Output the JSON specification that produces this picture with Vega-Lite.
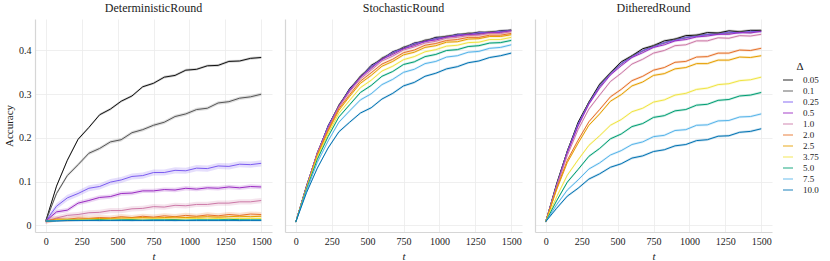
{
"$schema":"https://vega.github.io/schema/vega-lite/v6.json",
"padding":{"left":3,"top":2,"right":2,"bottom":2},
"datasets":{"acc":[
{"m":"D","d":"0.05","t":0,"y":0.010},{"m":"D","d":"0.05","t":75,"y":0.090},{"m":"D","d":"0.05","t":150,"y":0.149},{"m":"D","d":"0.05","t":225,"y":0.197},{"m":"D","d":"0.05","t":300,"y":0.224},{"m":"D","d":"0.05","t":375,"y":0.253},{"m":"D","d":"0.05","t":450,"y":0.266},{"m":"D","d":"0.05","t":525,"y":0.284},{"m":"D","d":"0.05","t":600,"y":0.296},{"m":"D","d":"0.05","t":675,"y":0.317},{"m":"D","d":"0.05","t":750,"y":0.325},{"m":"D","d":"0.05","t":825,"y":0.339},{"m":"D","d":"0.05","t":900,"y":0.343},{"m":"D","d":"0.05","t":975,"y":0.355},{"m":"D","d":"0.05","t":1050,"y":0.357},{"m":"D","d":"0.05","t":1125,"y":0.365},{"m":"D","d":"0.05","t":1200,"y":0.366},{"m":"D","d":"0.05","t":1275,"y":0.375},{"m":"D","d":"0.05","t":1350,"y":0.376},{"m":"D","d":"0.05","t":1425,"y":0.382},{"m":"D","d":"0.05","t":1500,"y":0.384},
{"m":"D","d":"0.1","t":0,"y":0.010},{"m":"D","d":"0.1","t":75,"y":0.073},{"m":"D","d":"0.1","t":150,"y":0.114},{"m":"D","d":"0.1","t":225,"y":0.139},{"m":"D","d":"0.1","t":300,"y":0.165},{"m":"D","d":"0.1","t":375,"y":0.176},{"m":"D","d":"0.1","t":450,"y":0.191},{"m":"D","d":"0.1","t":525,"y":0.196},{"m":"D","d":"0.1","t":600,"y":0.212},{"m":"D","d":"0.1","t":675,"y":0.219},{"m":"D","d":"0.1","t":750,"y":0.229},{"m":"D","d":"0.1","t":825,"y":0.236},{"m":"D","d":"0.1","t":900,"y":0.249},{"m":"D","d":"0.1","t":975,"y":0.255},{"m":"D","d":"0.1","t":1050,"y":0.265},{"m":"D","d":"0.1","t":1125,"y":0.268},{"m":"D","d":"0.1","t":1200,"y":0.280},{"m":"D","d":"0.1","t":1275,"y":0.283},{"m":"D","d":"0.1","t":1350,"y":0.291},{"m":"D","d":"0.1","t":1425,"y":0.294},{"m":"D","d":"0.1","t":1500,"y":0.300},
{"m":"D","d":"0.25","t":0,"y":0.010},{"m":"D","d":"0.25","t":75,"y":0.044},{"m":"D","d":"0.25","t":150,"y":0.063},{"m":"D","d":"0.25","t":225,"y":0.073},{"m":"D","d":"0.25","t":300,"y":0.085},{"m":"D","d":"0.25","t":375,"y":0.089},{"m":"D","d":"0.25","t":450,"y":0.099},{"m":"D","d":"0.25","t":525,"y":0.104},{"m":"D","d":"0.25","t":600,"y":0.112},{"m":"D","d":"0.25","t":675,"y":0.114},{"m":"D","d":"0.25","t":750,"y":0.121},{"m":"D","d":"0.25","t":825,"y":0.121},{"m":"D","d":"0.25","t":900,"y":0.126},{"m":"D","d":"0.25","t":975,"y":0.125},{"m":"D","d":"0.25","t":1050,"y":0.131},{"m":"D","d":"0.25","t":1125,"y":0.130},{"m":"D","d":"0.25","t":1200,"y":0.136},{"m":"D","d":"0.25","t":1275,"y":0.135},{"m":"D","d":"0.25","t":1350,"y":0.140},{"m":"D","d":"0.25","t":1425,"y":0.139},{"m":"D","d":"0.25","t":1500,"y":0.142},
{"m":"D","d":"0.5","t":0,"y":0.010},{"m":"D","d":"0.5","t":75,"y":0.031},{"m":"D","d":"0.5","t":150,"y":0.035},{"m":"D","d":"0.5","t":225,"y":0.051},{"m":"D","d":"0.5","t":300,"y":0.057},{"m":"D","d":"0.5","t":375,"y":0.064},{"m":"D","d":"0.5","t":450,"y":0.066},{"m":"D","d":"0.5","t":525,"y":0.073},{"m":"D","d":"0.5","t":600,"y":0.074},{"m":"D","d":"0.5","t":675,"y":0.079},{"m":"D","d":"0.5","t":750,"y":0.079},{"m":"D","d":"0.5","t":825,"y":0.082},{"m":"D","d":"0.5","t":900,"y":0.081},{"m":"D","d":"0.5","t":975,"y":0.085},{"m":"D","d":"0.5","t":1050,"y":0.083},{"m":"D","d":"0.5","t":1125,"y":0.086},{"m":"D","d":"0.5","t":1200,"y":0.085},{"m":"D","d":"0.5","t":1275,"y":0.088},{"m":"D","d":"0.5","t":1350,"y":0.086},{"m":"D","d":"0.5","t":1425,"y":0.089},{"m":"D","d":"0.5","t":1500,"y":0.088},
{"m":"D","d":"1.0","t":0,"y":0.010},{"m":"D","d":"1.0","t":75,"y":0.017},{"m":"D","d":"1.0","t":150,"y":0.023},{"m":"D","d":"1.0","t":225,"y":0.025},{"m":"D","d":"1.0","t":300,"y":0.029},{"m":"D","d":"1.0","t":375,"y":0.030},{"m":"D","d":"1.0","t":450,"y":0.034},{"m":"D","d":"1.0","t":525,"y":0.034},{"m":"D","d":"1.0","t":600,"y":0.038},{"m":"D","d":"1.0","t":675,"y":0.039},{"m":"D","d":"1.0","t":750,"y":0.043},{"m":"D","d":"1.0","t":825,"y":0.042},{"m":"D","d":"1.0","t":900,"y":0.046},{"m":"D","d":"1.0","t":975,"y":0.045},{"m":"D","d":"1.0","t":1050,"y":0.048},{"m":"D","d":"1.0","t":1125,"y":0.048},{"m":"D","d":"1.0","t":1200,"y":0.051},{"m":"D","d":"1.0","t":1275,"y":0.051},{"m":"D","d":"1.0","t":1350,"y":0.054},{"m":"D","d":"1.0","t":1425,"y":0.054},{"m":"D","d":"1.0","t":1500,"y":0.057},
{"m":"D","d":"2.0","t":0,"y":0.010},{"m":"D","d":"2.0","t":75,"y":0.015},{"m":"D","d":"2.0","t":150,"y":0.014},{"m":"D","d":"2.0","t":225,"y":0.017},{"m":"D","d":"2.0","t":300,"y":0.016},{"m":"D","d":"2.0","t":375,"y":0.018},{"m":"D","d":"2.0","t":450,"y":0.017},{"m":"D","d":"2.0","t":525,"y":0.020},{"m":"D","d":"2.0","t":600,"y":0.018},{"m":"D","d":"2.0","t":675,"y":0.021},{"m":"D","d":"2.0","t":750,"y":0.019},{"m":"D","d":"2.0","t":825,"y":0.022},{"m":"D","d":"2.0","t":900,"y":0.020},{"m":"D","d":"2.0","t":975,"y":0.023},{"m":"D","d":"2.0","t":1050,"y":0.021},{"m":"D","d":"2.0","t":1125,"y":0.024},{"m":"D","d":"2.0","t":1200,"y":0.022},{"m":"D","d":"2.0","t":1275,"y":0.025},{"m":"D","d":"2.0","t":1350,"y":0.023},{"m":"D","d":"2.0","t":1425,"y":0.026},{"m":"D","d":"2.0","t":1500,"y":0.025},
{"m":"D","d":"2.5","t":0,"y":0.010},{"m":"D","d":"2.5","t":75,"y":0.013},{"m":"D","d":"2.5","t":150,"y":0.014},{"m":"D","d":"2.5","t":225,"y":0.014},{"m":"D","d":"2.5","t":300,"y":0.015},{"m":"D","d":"2.5","t":375,"y":0.016},{"m":"D","d":"2.5","t":450,"y":0.016},{"m":"D","d":"2.5","t":525,"y":0.017},{"m":"D","d":"2.5","t":600,"y":0.017},{"m":"D","d":"2.5","t":675,"y":0.018},{"m":"D","d":"2.5","t":750,"y":0.017},{"m":"D","d":"2.5","t":825,"y":0.018},{"m":"D","d":"2.5","t":900,"y":0.019},{"m":"D","d":"2.5","t":975,"y":0.018},{"m":"D","d":"2.5","t":1050,"y":0.019},{"m":"D","d":"2.5","t":1125,"y":0.020},{"m":"D","d":"2.5","t":1200,"y":0.019},{"m":"D","d":"2.5","t":1275,"y":0.020},{"m":"D","d":"2.5","t":1350,"y":0.021},{"m":"D","d":"2.5","t":1425,"y":0.020},{"m":"D","d":"2.5","t":1500,"y":0.021},
{"m":"D","d":"3.75","t":0,"y":0.010},{"m":"D","d":"3.75","t":75,"y":0.012},{"m":"D","d":"3.75","t":150,"y":0.013},{"m":"D","d":"3.75","t":225,"y":0.013},{"m":"D","d":"3.75","t":300,"y":0.014},{"m":"D","d":"3.75","t":375,"y":0.013},{"m":"D","d":"3.75","t":450,"y":0.014},{"m":"D","d":"3.75","t":525,"y":0.014},{"m":"D","d":"3.75","t":600,"y":0.015},{"m":"D","d":"3.75","t":675,"y":0.014},{"m":"D","d":"3.75","t":750,"y":0.015},{"m":"D","d":"3.75","t":825,"y":0.015},{"m":"D","d":"3.75","t":900,"y":0.014},{"m":"D","d":"3.75","t":975,"y":0.015},{"m":"D","d":"3.75","t":1050,"y":0.016},{"m":"D","d":"3.75","t":1125,"y":0.015},{"m":"D","d":"3.75","t":1200,"y":0.016},{"m":"D","d":"3.75","t":1275,"y":0.015},{"m":"D","d":"3.75","t":1350,"y":0.016},{"m":"D","d":"3.75","t":1425,"y":0.016},{"m":"D","d":"3.75","t":1500,"y":0.016},
{"m":"D","d":"5.0","t":0,"y":0.010},{"m":"D","d":"5.0","t":75,"y":0.011},{"m":"D","d":"5.0","t":150,"y":0.012},{"m":"D","d":"5.0","t":225,"y":0.012},{"m":"D","d":"5.0","t":300,"y":0.012},{"m":"D","d":"5.0","t":375,"y":0.013},{"m":"D","d":"5.0","t":450,"y":0.012},{"m":"D","d":"5.0","t":525,"y":0.013},{"m":"D","d":"5.0","t":600,"y":0.013},{"m":"D","d":"5.0","t":675,"y":0.012},{"m":"D","d":"5.0","t":750,"y":0.013},{"m":"D","d":"5.0","t":825,"y":0.013},{"m":"D","d":"5.0","t":900,"y":0.013},{"m":"D","d":"5.0","t":975,"y":0.012},{"m":"D","d":"5.0","t":1050,"y":0.013},{"m":"D","d":"5.0","t":1125,"y":0.013},{"m":"D","d":"5.0","t":1200,"y":0.013},{"m":"D","d":"5.0","t":1275,"y":0.014},{"m":"D","d":"5.0","t":1350,"y":0.013},{"m":"D","d":"5.0","t":1425,"y":0.013},{"m":"D","d":"5.0","t":1500,"y":0.013},
{"m":"D","d":"7.5","t":0,"y":0.010},{"m":"D","d":"7.5","t":75,"y":0.011},{"m":"D","d":"7.5","t":150,"y":0.011},{"m":"D","d":"7.5","t":225,"y":0.011},{"m":"D","d":"7.5","t":300,"y":0.012},{"m":"D","d":"7.5","t":375,"y":0.011},{"m":"D","d":"7.5","t":450,"y":0.012},{"m":"D","d":"7.5","t":525,"y":0.012},{"m":"D","d":"7.5","t":600,"y":0.011},{"m":"D","d":"7.5","t":675,"y":0.012},{"m":"D","d":"7.5","t":750,"y":0.012},{"m":"D","d":"7.5","t":825,"y":0.012},{"m":"D","d":"7.5","t":900,"y":0.011},{"m":"D","d":"7.5","t":975,"y":0.012},{"m":"D","d":"7.5","t":1050,"y":0.012},{"m":"D","d":"7.5","t":1125,"y":0.012},{"m":"D","d":"7.5","t":1200,"y":0.012},{"m":"D","d":"7.5","t":1275,"y":0.012},{"m":"D","d":"7.5","t":1350,"y":0.011},{"m":"D","d":"7.5","t":1425,"y":0.012},{"m":"D","d":"7.5","t":1500,"y":0.012},
{"m":"D","d":"10.0","t":0,"y":0.010},{"m":"D","d":"10.0","t":75,"y":0.010},{"m":"D","d":"10.0","t":150,"y":0.011},{"m":"D","d":"10.0","t":225,"y":0.011},{"m":"D","d":"10.0","t":300,"y":0.011},{"m":"D","d":"10.0","t":375,"y":0.011},{"m":"D","d":"10.0","t":450,"y":0.011},{"m":"D","d":"10.0","t":525,"y":0.011},{"m":"D","d":"10.0","t":600,"y":0.011},{"m":"D","d":"10.0","t":675,"y":0.011},{"m":"D","d":"10.0","t":750,"y":0.011},{"m":"D","d":"10.0","t":825,"y":0.011},{"m":"D","d":"10.0","t":900,"y":0.011},{"m":"D","d":"10.0","t":975,"y":0.011},{"m":"D","d":"10.0","t":1050,"y":0.011},{"m":"D","d":"10.0","t":1125,"y":0.011},{"m":"D","d":"10.0","t":1200,"y":0.011},{"m":"D","d":"10.0","t":1275,"y":0.011},{"m":"D","d":"10.0","t":1350,"y":0.011},{"m":"D","d":"10.0","t":1425,"y":0.011},{"m":"D","d":"10.0","t":1500,"y":0.011},
{"m":"S","d":"0.05","t":0,"y":0.008},{"m":"S","d":"0.05","t":75,"y":0.091},{"m":"S","d":"0.05","t":150,"y":0.164},{"m":"S","d":"0.05","t":225,"y":0.228},{"m":"S","d":"0.05","t":300,"y":0.273},{"m":"S","d":"0.05","t":375,"y":0.313},{"m":"S","d":"0.05","t":450,"y":0.339},{"m":"S","d":"0.05","t":525,"y":0.366},{"m":"S","d":"0.05","t":600,"y":0.380},{"m":"S","d":"0.05","t":675,"y":0.397},{"m":"S","d":"0.05","t":750,"y":0.405},{"m":"S","d":"0.05","t":825,"y":0.417},{"m":"S","d":"0.05","t":900,"y":0.421},{"m":"S","d":"0.05","t":975,"y":0.430},{"m":"S","d":"0.05","t":1050,"y":0.431},{"m":"S","d":"0.05","t":1125,"y":0.437},{"m":"S","d":"0.05","t":1200,"y":0.437},{"m":"S","d":"0.05","t":1275,"y":0.442},{"m":"S","d":"0.05","t":1350,"y":0.441},{"m":"S","d":"0.05","t":1425,"y":0.445},{"m":"S","d":"0.05","t":1500,"y":0.446},
{"m":"S","d":"0.1","t":0,"y":0.008},{"m":"S","d":"0.1","t":75,"y":0.089},{"m":"S","d":"0.1","t":150,"y":0.167},{"m":"S","d":"0.1","t":225,"y":0.225},{"m":"S","d":"0.1","t":300,"y":0.276},{"m":"S","d":"0.1","t":375,"y":0.310},{"m":"S","d":"0.1","t":450,"y":0.342},{"m":"S","d":"0.1","t":525,"y":0.362},{"m":"S","d":"0.1","t":600,"y":0.383},{"m":"S","d":"0.1","t":675,"y":0.394},{"m":"S","d":"0.1","t":750,"y":0.408},{"m":"S","d":"0.1","t":825,"y":0.414},{"m":"S","d":"0.1","t":900,"y":0.424},{"m":"S","d":"0.1","t":975,"y":0.427},{"m":"S","d":"0.1","t":1050,"y":0.433},{"m":"S","d":"0.1","t":1125,"y":0.435},{"m":"S","d":"0.1","t":1200,"y":0.440},{"m":"S","d":"0.1","t":1275,"y":0.439},{"m":"S","d":"0.1","t":1350,"y":0.443},{"m":"S","d":"0.1","t":1425,"y":0.443},{"m":"S","d":"0.1","t":1500,"y":0.447},
{"m":"S","d":"0.25","t":0,"y":0.008},{"m":"S","d":"0.25","t":75,"y":0.090},{"m":"S","d":"0.25","t":150,"y":0.165},{"m":"S","d":"0.25","t":225,"y":0.227},{"m":"S","d":"0.25","t":300,"y":0.272},{"m":"S","d":"0.25","t":375,"y":0.311},{"m":"S","d":"0.25","t":450,"y":0.338},{"m":"S","d":"0.25","t":525,"y":0.364},{"m":"S","d":"0.25","t":600,"y":0.379},{"m":"S","d":"0.25","t":675,"y":0.396},{"m":"S","d":"0.25","t":750,"y":0.404},{"m":"S","d":"0.25","t":825,"y":0.416},{"m":"S","d":"0.25","t":900,"y":0.420},{"m":"S","d":"0.25","t":975,"y":0.428},{"m":"S","d":"0.25","t":1050,"y":0.430},{"m":"S","d":"0.25","t":1125,"y":0.436},{"m":"S","d":"0.25","t":1200,"y":0.436},{"m":"S","d":"0.25","t":1275,"y":0.441},{"m":"S","d":"0.25","t":1350,"y":0.440},{"m":"S","d":"0.25","t":1425,"y":0.444},{"m":"S","d":"0.25","t":1500,"y":0.445},
{"m":"S","d":"0.5","t":0,"y":0.008},{"m":"S","d":"0.5","t":75,"y":0.088},{"m":"S","d":"0.5","t":150,"y":0.166},{"m":"S","d":"0.5","t":225,"y":0.223},{"m":"S","d":"0.5","t":300,"y":0.273},{"m":"S","d":"0.5","t":375,"y":0.308},{"m":"S","d":"0.5","t":450,"y":0.339},{"m":"S","d":"0.5","t":525,"y":0.359},{"m":"S","d":"0.5","t":600,"y":0.380},{"m":"S","d":"0.5","t":675,"y":0.391},{"m":"S","d":"0.5","t":750,"y":0.404},{"m":"S","d":"0.5","t":825,"y":0.411},{"m":"S","d":"0.5","t":900,"y":0.421},{"m":"S","d":"0.5","t":975,"y":0.424},{"m":"S","d":"0.5","t":1050,"y":0.431},{"m":"S","d":"0.5","t":1125,"y":0.433},{"m":"S","d":"0.5","t":1200,"y":0.437},{"m":"S","d":"0.5","t":1275,"y":0.437},{"m":"S","d":"0.5","t":1350,"y":0.441},{"m":"S","d":"0.5","t":1425,"y":0.441},{"m":"S","d":"0.5","t":1500,"y":0.445},
{"m":"S","d":"1.0","t":0,"y":0.008},{"m":"S","d":"1.0","t":75,"y":0.088},{"m":"S","d":"1.0","t":150,"y":0.165},{"m":"S","d":"1.0","t":225,"y":0.221},{"m":"S","d":"1.0","t":300,"y":0.271},{"m":"S","d":"1.0","t":375,"y":0.305},{"m":"S","d":"1.0","t":450,"y":0.335},{"m":"S","d":"1.0","t":525,"y":0.355},{"m":"S","d":"1.0","t":600,"y":0.376},{"m":"S","d":"1.0","t":675,"y":0.387},{"m":"S","d":"1.0","t":750,"y":0.401},{"m":"S","d":"1.0","t":825,"y":0.408},{"m":"S","d":"1.0","t":900,"y":0.417},{"m":"S","d":"1.0","t":975,"y":0.421},{"m":"S","d":"1.0","t":1050,"y":0.428},{"m":"S","d":"1.0","t":1125,"y":0.430},{"m":"S","d":"1.0","t":1200,"y":0.434},{"m":"S","d":"1.0","t":1275,"y":0.435},{"m":"S","d":"1.0","t":1350,"y":0.439},{"m":"S","d":"1.0","t":1425,"y":0.439},{"m":"S","d":"1.0","t":1500,"y":0.443},
{"m":"S","d":"2.0","t":0,"y":0.008},{"m":"S","d":"2.0","t":75,"y":0.087},{"m":"S","d":"2.0","t":150,"y":0.162},{"m":"S","d":"2.0","t":225,"y":0.218},{"m":"S","d":"2.0","t":300,"y":0.267},{"m":"S","d":"2.0","t":375,"y":0.299},{"m":"S","d":"2.0","t":450,"y":0.330},{"m":"S","d":"2.0","t":525,"y":0.349},{"m":"S","d":"2.0","t":600,"y":0.369},{"m":"S","d":"2.0","t":675,"y":0.380},{"m":"S","d":"2.0","t":750,"y":0.395},{"m":"S","d":"2.0","t":825,"y":0.401},{"m":"S","d":"2.0","t":900,"y":0.412},{"m":"S","d":"2.0","t":975,"y":0.416},{"m":"S","d":"2.0","t":1050,"y":0.423},{"m":"S","d":"2.0","t":1125,"y":0.425},{"m":"S","d":"2.0","t":1200,"y":0.430},{"m":"S","d":"2.0","t":1275,"y":0.430},{"m":"S","d":"2.0","t":1350,"y":0.435},{"m":"S","d":"2.0","t":1425,"y":0.435},{"m":"S","d":"2.0","t":1500,"y":0.439},
{"m":"S","d":"2.5","t":0,"y":0.008},{"m":"S","d":"2.5","t":75,"y":0.086},{"m":"S","d":"2.5","t":150,"y":0.160},{"m":"S","d":"2.5","t":225,"y":0.215},{"m":"S","d":"2.5","t":300,"y":0.263},{"m":"S","d":"2.5","t":375,"y":0.295},{"m":"S","d":"2.5","t":450,"y":0.325},{"m":"S","d":"2.5","t":525,"y":0.343},{"m":"S","d":"2.5","t":600,"y":0.364},{"m":"S","d":"2.5","t":675,"y":0.375},{"m":"S","d":"2.5","t":750,"y":0.390},{"m":"S","d":"2.5","t":825,"y":0.396},{"m":"S","d":"2.5","t":900,"y":0.407},{"m":"S","d":"2.5","t":975,"y":0.411},{"m":"S","d":"2.5","t":1050,"y":0.419},{"m":"S","d":"2.5","t":1125,"y":0.420},{"m":"S","d":"2.5","t":1200,"y":0.426},{"m":"S","d":"2.5","t":1275,"y":0.427},{"m":"S","d":"2.5","t":1350,"y":0.432},{"m":"S","d":"2.5","t":1425,"y":0.432},{"m":"S","d":"2.5","t":1500,"y":0.436},
{"m":"S","d":"3.75","t":0,"y":0.008},{"m":"S","d":"3.75","t":75,"y":0.085},{"m":"S","d":"3.75","t":150,"y":0.156},{"m":"S","d":"3.75","t":225,"y":0.209},{"m":"S","d":"3.75","t":300,"y":0.256},{"m":"S","d":"3.75","t":375,"y":0.286},{"m":"S","d":"3.75","t":450,"y":0.315},{"m":"S","d":"3.75","t":525,"y":0.332},{"m":"S","d":"3.75","t":600,"y":0.353},{"m":"S","d":"3.75","t":675,"y":0.364},{"m":"S","d":"3.75","t":750,"y":0.379},{"m":"S","d":"3.75","t":825,"y":0.386},{"m":"S","d":"3.75","t":900,"y":0.397},{"m":"S","d":"3.75","t":975,"y":0.402},{"m":"S","d":"3.75","t":1050,"y":0.410},{"m":"S","d":"3.75","t":1125,"y":0.412},{"m":"S","d":"3.75","t":1200,"y":0.418},{"m":"S","d":"3.75","t":1275,"y":0.419},{"m":"S","d":"3.75","t":1350,"y":0.425},{"m":"S","d":"3.75","t":1425,"y":0.425},{"m":"S","d":"3.75","t":1500,"y":0.430},
{"m":"S","d":"5.0","t":0,"y":0.008},{"m":"S","d":"5.0","t":75,"y":0.083},{"m":"S","d":"5.0","t":150,"y":0.151},{"m":"S","d":"5.0","t":225,"y":0.203},{"m":"S","d":"5.0","t":300,"y":0.248},{"m":"S","d":"5.0","t":375,"y":0.276},{"m":"S","d":"5.0","t":450,"y":0.304},{"m":"S","d":"5.0","t":525,"y":0.320},{"m":"S","d":"5.0","t":600,"y":0.341},{"m":"S","d":"5.0","t":675,"y":0.352},{"m":"S","d":"5.0","t":750,"y":0.368},{"m":"S","d":"5.0","t":825,"y":0.374},{"m":"S","d":"5.0","t":900,"y":0.386},{"m":"S","d":"5.0","t":975,"y":0.391},{"m":"S","d":"5.0","t":1050,"y":0.400},{"m":"S","d":"5.0","t":1125,"y":0.402},{"m":"S","d":"5.0","t":1200,"y":0.409},{"m":"S","d":"5.0","t":1275,"y":0.411},{"m":"S","d":"5.0","t":1350,"y":0.417},{"m":"S","d":"5.0","t":1425,"y":0.418},{"m":"S","d":"5.0","t":1500,"y":0.423},
{"m":"S","d":"7.5","t":0,"y":0.008},{"m":"S","d":"7.5","t":75,"y":0.080},{"m":"S","d":"7.5","t":150,"y":0.144},{"m":"S","d":"7.5","t":225,"y":0.193},{"m":"S","d":"7.5","t":300,"y":0.236},{"m":"S","d":"7.5","t":375,"y":0.262},{"m":"S","d":"7.5","t":450,"y":0.287},{"m":"S","d":"7.5","t":525,"y":0.301},{"m":"S","d":"7.5","t":600,"y":0.322},{"m":"S","d":"7.5","t":675,"y":0.334},{"m":"S","d":"7.5","t":750,"y":0.350},{"m":"S","d":"7.5","t":825,"y":0.357},{"m":"S","d":"7.5","t":900,"y":0.370},{"m":"S","d":"7.5","t":975,"y":0.375},{"m":"S","d":"7.5","t":1050,"y":0.385},{"m":"S","d":"7.5","t":1125,"y":0.388},{"m":"S","d":"7.5","t":1200,"y":0.396},{"m":"S","d":"7.5","t":1275,"y":0.398},{"m":"S","d":"7.5","t":1350,"y":0.405},{"m":"S","d":"7.5","t":1425,"y":0.407},{"m":"S","d":"7.5","t":1500,"y":0.413},
{"m":"S","d":"10.0","t":0,"y":0.008},{"m":"S","d":"10.0","t":75,"y":0.075},{"m":"S","d":"10.0","t":150,"y":0.131},{"m":"S","d":"10.0","t":225,"y":0.177},{"m":"S","d":"10.0","t":300,"y":0.214},{"m":"S","d":"10.0","t":375,"y":0.236},{"m":"S","d":"10.0","t":450,"y":0.257},{"m":"S","d":"10.0","t":525,"y":0.269},{"m":"S","d":"10.0","t":600,"y":0.289},{"m":"S","d":"10.0","t":675,"y":0.302},{"m":"S","d":"10.0","t":750,"y":0.319},{"m":"S","d":"10.0","t":825,"y":0.327},{"m":"S","d":"10.0","t":900,"y":0.341},{"m":"S","d":"10.0","t":975,"y":0.348},{"m":"S","d":"10.0","t":1050,"y":0.358},{"m":"S","d":"10.0","t":1125,"y":0.363},{"m":"S","d":"10.0","t":1200,"y":0.372},{"m":"S","d":"10.0","t":1275,"y":0.376},{"m":"S","d":"10.0","t":1350,"y":0.384},{"m":"S","d":"10.0","t":1425,"y":0.388},{"m":"S","d":"10.0","t":1500,"y":0.394},
{"m":"R","d":"0.05","t":0,"y":0.009},{"m":"R","d":"0.05","t":75,"y":0.095},{"m":"R","d":"0.05","t":150,"y":0.170},{"m":"R","d":"0.05","t":225,"y":0.236},{"m":"R","d":"0.05","t":300,"y":0.282},{"m":"R","d":"0.05","t":375,"y":0.323},{"m":"R","d":"0.05","t":450,"y":0.349},{"m":"R","d":"0.05","t":525,"y":0.374},{"m":"R","d":"0.05","t":600,"y":0.388},{"m":"R","d":"0.05","t":675,"y":0.404},{"m":"R","d":"0.05","t":750,"y":0.411},{"m":"R","d":"0.05","t":825,"y":0.422},{"m":"R","d":"0.05","t":900,"y":0.426},{"m":"R","d":"0.05","t":975,"y":0.434},{"m":"R","d":"0.05","t":1050,"y":0.435},{"m":"R","d":"0.05","t":1125,"y":0.441},{"m":"R","d":"0.05","t":1200,"y":0.440},{"m":"R","d":"0.05","t":1275,"y":0.445},{"m":"R","d":"0.05","t":1350,"y":0.443},{"m":"R","d":"0.05","t":1425,"y":0.446},{"m":"R","d":"0.05","t":1500,"y":0.446},
{"m":"R","d":"0.1","t":0,"y":0.009},{"m":"R","d":"0.1","t":75,"y":0.092},{"m":"R","d":"0.1","t":150,"y":0.171},{"m":"R","d":"0.1","t":225,"y":0.231},{"m":"R","d":"0.1","t":300,"y":0.282},{"m":"R","d":"0.1","t":375,"y":0.318},{"m":"R","d":"0.1","t":450,"y":0.349},{"m":"R","d":"0.1","t":525,"y":0.369},{"m":"R","d":"0.1","t":600,"y":0.388},{"m":"R","d":"0.1","t":675,"y":0.399},{"m":"R","d":"0.1","t":750,"y":0.411},{"m":"R","d":"0.1","t":825,"y":0.417},{"m":"R","d":"0.1","t":900,"y":0.426},{"m":"R","d":"0.1","t":975,"y":0.429},{"m":"R","d":"0.1","t":1050,"y":0.435},{"m":"R","d":"0.1","t":1125,"y":0.436},{"m":"R","d":"0.1","t":1200,"y":0.440},{"m":"R","d":"0.1","t":1275,"y":0.440},{"m":"R","d":"0.1","t":1350,"y":0.443},{"m":"R","d":"0.1","t":1425,"y":0.442},{"m":"R","d":"0.1","t":1500,"y":0.445},
{"m":"R","d":"0.25","t":0,"y":0.009},{"m":"R","d":"0.25","t":75,"y":0.091},{"m":"R","d":"0.25","t":150,"y":0.168},{"m":"R","d":"0.25","t":225,"y":0.232},{"m":"R","d":"0.25","t":300,"y":0.279},{"m":"R","d":"0.25","t":375,"y":0.319},{"m":"R","d":"0.25","t":450,"y":0.346},{"m":"R","d":"0.25","t":525,"y":0.370},{"m":"R","d":"0.25","t":600,"y":0.385},{"m":"R","d":"0.25","t":675,"y":0.400},{"m":"R","d":"0.25","t":750,"y":0.408},{"m":"R","d":"0.25","t":825,"y":0.418},{"m":"R","d":"0.25","t":900,"y":0.423},{"m":"R","d":"0.25","t":975,"y":0.430},{"m":"R","d":"0.25","t":1050,"y":0.432},{"m":"R","d":"0.25","t":1125,"y":0.437},{"m":"R","d":"0.25","t":1200,"y":0.437},{"m":"R","d":"0.25","t":1275,"y":0.442},{"m":"R","d":"0.25","t":1350,"y":0.440},{"m":"R","d":"0.25","t":1425,"y":0.444},{"m":"R","d":"0.25","t":1500,"y":0.443},
{"m":"R","d":"0.5","t":0,"y":0.009},{"m":"R","d":"0.5","t":75,"y":0.089},{"m":"R","d":"0.5","t":150,"y":0.166},{"m":"R","d":"0.5","t":225,"y":0.227},{"m":"R","d":"0.5","t":300,"y":0.277},{"m":"R","d":"0.5","t":375,"y":0.314},{"m":"R","d":"0.5","t":450,"y":0.344},{"m":"R","d":"0.5","t":525,"y":0.365},{"m":"R","d":"0.5","t":600,"y":0.384},{"m":"R","d":"0.5","t":675,"y":0.395},{"m":"R","d":"0.5","t":750,"y":0.407},{"m":"R","d":"0.5","t":825,"y":0.413},{"m":"R","d":"0.5","t":900,"y":0.422},{"m":"R","d":"0.5","t":975,"y":0.425},{"m":"R","d":"0.5","t":1050,"y":0.431},{"m":"R","d":"0.5","t":1125,"y":0.433},{"m":"R","d":"0.5","t":1200,"y":0.437},{"m":"R","d":"0.5","t":1275,"y":0.437},{"m":"R","d":"0.5","t":1350,"y":0.441},{"m":"R","d":"0.5","t":1425,"y":0.440},{"m":"R","d":"0.5","t":1500,"y":0.444},
{"m":"R","d":"1.0","t":0,"y":0.009},{"m":"R","d":"1.0","t":75,"y":0.089},{"m":"R","d":"1.0","t":150,"y":0.160},{"m":"R","d":"1.0","t":225,"y":0.219},{"m":"R","d":"1.0","t":300,"y":0.266},{"m":"R","d":"1.0","t":375,"y":0.298},{"m":"R","d":"1.0","t":450,"y":0.329},{"m":"R","d":"1.0","t":525,"y":0.348},{"m":"R","d":"1.0","t":600,"y":0.369},{"m":"R","d":"1.0","t":675,"y":0.380},{"m":"R","d":"1.0","t":750,"y":0.394},{"m":"R","d":"1.0","t":825,"y":0.400},{"m":"R","d":"1.0","t":900,"y":0.411},{"m":"R","d":"1.0","t":975,"y":0.413},{"m":"R","d":"1.0","t":1050,"y":0.422},{"m":"R","d":"1.0","t":1125,"y":0.422},{"m":"R","d":"1.0","t":1200,"y":0.429},{"m":"R","d":"1.0","t":1275,"y":0.428},{"m":"R","d":"1.0","t":1350,"y":0.434},{"m":"R","d":"1.0","t":1425,"y":0.433},{"m":"R","d":"1.0","t":1500,"y":0.437},
{"m":"R","d":"2.0","t":0,"y":0.009},{"m":"R","d":"2.0","t":75,"y":0.084},{"m":"R","d":"2.0","t":150,"y":0.149},{"m":"R","d":"2.0","t":225,"y":0.195},{"m":"R","d":"2.0","t":300,"y":0.237},{"m":"R","d":"2.0","t":375,"y":0.265},{"m":"R","d":"2.0","t":450,"y":0.294},{"m":"R","d":"2.0","t":525,"y":0.311},{"m":"R","d":"2.0","t":600,"y":0.331},{"m":"R","d":"2.0","t":675,"y":0.341},{"m":"R","d":"2.0","t":750,"y":0.355},{"m":"R","d":"2.0","t":825,"y":0.361},{"m":"R","d":"2.0","t":900,"y":0.373},{"m":"R","d":"2.0","t":975,"y":0.375},{"m":"R","d":"2.0","t":1050,"y":0.385},{"m":"R","d":"2.0","t":1125,"y":0.386},{"m":"R","d":"2.0","t":1200,"y":0.394},{"m":"R","d":"2.0","t":1275,"y":0.394},{"m":"R","d":"2.0","t":1350,"y":0.401},{"m":"R","d":"2.0","t":1425,"y":0.400},{"m":"R","d":"2.0","t":1500,"y":0.405},
{"m":"R","d":"2.5","t":0,"y":0.009},{"m":"R","d":"2.5","t":75,"y":0.081},{"m":"R","d":"2.5","t":150,"y":0.144},{"m":"R","d":"2.5","t":225,"y":0.188},{"m":"R","d":"2.5","t":300,"y":0.229},{"m":"R","d":"2.5","t":375,"y":0.255},{"m":"R","d":"2.5","t":450,"y":0.284},{"m":"R","d":"2.5","t":525,"y":0.299},{"m":"R","d":"2.5","t":600,"y":0.319},{"m":"R","d":"2.5","t":675,"y":0.328},{"m":"R","d":"2.5","t":750,"y":0.343},{"m":"R","d":"2.5","t":825,"y":0.347},{"m":"R","d":"2.5","t":900,"y":0.358},{"m":"R","d":"2.5","t":975,"y":0.361},{"m":"R","d":"2.5","t":1050,"y":0.370},{"m":"R","d":"2.5","t":1125,"y":0.370},{"m":"R","d":"2.5","t":1200,"y":0.378},{"m":"R","d":"2.5","t":1275,"y":0.378},{"m":"R","d":"2.5","t":1350,"y":0.385},{"m":"R","d":"2.5","t":1425,"y":0.384},{"m":"R","d":"2.5","t":1500,"y":0.388},
{"m":"R","d":"3.75","t":0,"y":0.009},{"m":"R","d":"3.75","t":75,"y":0.065},{"m":"R","d":"3.75","t":150,"y":0.115},{"m":"R","d":"3.75","t":225,"y":0.150},{"m":"R","d":"3.75","t":300,"y":0.183},{"m":"R","d":"3.75","t":375,"y":0.205},{"m":"R","d":"3.75","t":450,"y":0.229},{"m":"R","d":"3.75","t":525,"y":0.242},{"m":"R","d":"3.75","t":600,"y":0.260},{"m":"R","d":"3.75","t":675,"y":0.268},{"m":"R","d":"3.75","t":750,"y":0.282},{"m":"R","d":"3.75","t":825,"y":0.287},{"m":"R","d":"3.75","t":900,"y":0.298},{"m":"R","d":"3.75","t":975,"y":0.302},{"m":"R","d":"3.75","t":1050,"y":0.311},{"m":"R","d":"3.75","t":1125,"y":0.314},{"m":"R","d":"3.75","t":1200,"y":0.322},{"m":"R","d":"3.75","t":1275,"y":0.324},{"m":"R","d":"3.75","t":1350,"y":0.331},{"m":"R","d":"3.75","t":1425,"y":0.333},{"m":"R","d":"3.75","t":1500,"y":0.339},
{"m":"R","d":"5.0","t":0,"y":0.009},{"m":"R","d":"5.0","t":75,"y":0.056},{"m":"R","d":"5.0","t":150,"y":0.099},{"m":"R","d":"5.0","t":225,"y":0.128},{"m":"R","d":"5.0","t":300,"y":0.158},{"m":"R","d":"5.0","t":375,"y":0.176},{"m":"R","d":"5.0","t":450,"y":0.198},{"m":"R","d":"5.0","t":525,"y":0.209},{"m":"R","d":"5.0","t":600,"y":0.226},{"m":"R","d":"5.0","t":675,"y":0.233},{"m":"R","d":"5.0","t":750,"y":0.247},{"m":"R","d":"5.0","t":825,"y":0.251},{"m":"R","d":"5.0","t":900,"y":0.262},{"m":"R","d":"5.0","t":975,"y":0.265},{"m":"R","d":"5.0","t":1050,"y":0.275},{"m":"R","d":"5.0","t":1125,"y":0.277},{"m":"R","d":"5.0","t":1200,"y":0.286},{"m":"R","d":"5.0","t":1275,"y":0.288},{"m":"R","d":"5.0","t":1350,"y":0.296},{"m":"R","d":"5.0","t":1425,"y":0.298},{"m":"R","d":"5.0","t":1500,"y":0.304},
{"m":"R","d":"7.5","t":0,"y":0.009},{"m":"R","d":"7.5","t":75,"y":0.047},{"m":"R","d":"7.5","t":150,"y":0.081},{"m":"R","d":"7.5","t":225,"y":0.104},{"m":"R","d":"7.5","t":300,"y":0.129},{"m":"R","d":"7.5","t":375,"y":0.143},{"m":"R","d":"7.5","t":450,"y":0.161},{"m":"R","d":"7.5","t":525,"y":0.171},{"m":"R","d":"7.5","t":600,"y":0.185},{"m":"R","d":"7.5","t":675,"y":0.191},{"m":"R","d":"7.5","t":750,"y":0.203},{"m":"R","d":"7.5","t":825,"y":0.206},{"m":"R","d":"7.5","t":900,"y":0.217},{"m":"R","d":"7.5","t":975,"y":0.219},{"m":"R","d":"7.5","t":1050,"y":0.229},{"m":"R","d":"7.5","t":1125,"y":0.230},{"m":"R","d":"7.5","t":1200,"y":0.239},{"m":"R","d":"7.5","t":1275,"y":0.240},{"m":"R","d":"7.5","t":1350,"y":0.248},{"m":"R","d":"7.5","t":1425,"y":0.249},{"m":"R","d":"7.5","t":1500,"y":0.255},
{"m":"R","d":"10.0","t":0,"y":0.009},{"m":"R","d":"10.0","t":75,"y":0.039},{"m":"R","d":"10.0","t":150,"y":0.067},{"m":"R","d":"10.0","t":225,"y":0.085},{"m":"R","d":"10.0","t":300,"y":0.106},{"m":"R","d":"10.0","t":375,"y":0.118},{"m":"R","d":"10.0","t":450,"y":0.133},{"m":"R","d":"10.0","t":525,"y":0.141},{"m":"R","d":"10.0","t":600,"y":0.154},{"m":"R","d":"10.0","t":675,"y":0.159},{"m":"R","d":"10.0","t":750,"y":0.169},{"m":"R","d":"10.0","t":825,"y":0.173},{"m":"R","d":"10.0","t":900,"y":0.182},{"m":"R","d":"10.0","t":975,"y":0.185},{"m":"R","d":"10.0","t":1050,"y":0.194},{"m":"R","d":"10.0","t":1125,"y":0.196},{"m":"R","d":"10.0","t":1200,"y":0.204},{"m":"R","d":"10.0","t":1275,"y":0.205},{"m":"R","d":"10.0","t":1350,"y":0.213},{"m":"R","d":"10.0","t":1425,"y":0.215},{"m":"R","d":"10.0","t":1500,"y":0.221}
],
"bandD":[{"d":"0.05","e":0.003},{"d":"0.1","e":0.004},{"d":"0.25","e":0.007},{"d":"0.5","e":0.005},{"d":"1.0","e":0.006},{"d":"2.0","e":0.006},{"d":"2.5","e":0.003},{"d":"3.75","e":0.002},{"d":"5.0","e":0.001},{"d":"7.5","e":0.001},{"d":"10.0","e":0.001}],
"bandSR":[{"d":"0.05","e":0.003},{"d":"0.1","e":0.003},{"d":"0.25","e":0.003},{"d":"0.5","e":0.003},{"d":"1.0","e":0.003},{"d":"2.0","e":0.003},{"d":"2.5","e":0.003},{"d":"3.75","e":0.003},{"d":"5.0","e":0.003},{"d":"7.5","e":0.003},{"d":"10.0","e":0.003}]
},
"config":{
"font":"serif",
"view":{"stroke":null},
"axis":{"labelFont":"serif","titleFont":"serif","gridColor":"#ebebeb","gridWidth":0.8,"domainColor":"#d6d6d6","domainWidth":1.2,"ticks":false,"labelFontSize":10,"labelColor":"#222222","titleFontSize":11,"titleFontWeight":"normal","titleColor":"#222222","labelPadding":4},
"title":{"font":"serif","fontSize":12,"fontWeight":"normal","color":"#222222","offset":4},
"legend":{"labelFont":"serif","titleFont":"serif","titleFontSize":11,"titleFontWeight":"normal","labelFontSize":9,"labelColor":"#222222","titleColor":"#222222"}
},
"spacing":13,
"resolve":{"scale":{"color":"shared"}},
"hconcat":[
{"width":237,"height":213,"title":"DeterministicRound",
"data":{"name":"acc"},
"transform":[{"filter":"datum.m=='D'"},{"lookup":"d","from":{"data":{"name":"bandD"},"key":"d","fields":["e"]}}],
"encoding":{
"x":{"field":"t","type":"quantitative","scale":{"domain":[-75,1575],"nice":false},"axis":{"values":[0,250,500,750,1000,1250,1500],"format":"d","title":"t","titleFontStyle":"italic"}},
"y":{"field":"y","type":"quantitative","scale":{"domain":[-0.015,0.472],"nice":false,"zero":false},"axis":{"values":[0,0.1,0.2,0.3,0.4],"format":".1~f","title":"Accuracy"}},
"color":{"field":"d","type":"nominal","scale":{"domain":["0.05","0.1","0.25","0.5","1.0","2.0","2.5","3.75","5.0","7.5","10.0"],"range":["#111111","#555555","#7b5cf0","#9a2bc2","#cc79a7","#e6712a","#e69f00","#f0e442","#009e73","#56b4e9","#0072b2"]},"legend":{"title":"Δ","orient":"none","legendX":747,"legendY":42,"symbolType":"stroke","symbolStrokeWidth":1.5,"symbolSize":100,"titleAnchor":"middle","titlePadding":2,"rowPadding":0,"labelOffset":9,"encode":{"symbols":{"update":{"opacity":{"value":1},"strokeOpacity":{"value":0.6},"fillOpacity":{"value":0}}}}}}
},
"layer":[
{"mark":{"type":"errorband","opacity":0.2},"encoding":{"yError":{"field":"e"}}},
{"mark":{"type":"line","strokeWidth":1}}
]},
{"width":237,"height":213,"title":"StochasticRound",
"data":{"name":"acc"},
"transform":[{"filter":"datum.m=='S'"},{"lookup":"d","from":{"data":{"name":"bandSR"},"key":"d","fields":["e"]}}],
"encoding":{
"x":{"field":"t","type":"quantitative","scale":{"domain":[-75,1575],"nice":false},"axis":{"values":[0,250,500,750,1000,1250,1500],"format":"d","title":"t","titleFontStyle":"italic"}},
"y":{"field":"y","type":"quantitative","scale":{"domain":[-0.015,0.472],"nice":false,"zero":false},"axis":{"values":[0,0.1,0.2,0.3,0.4],"labels":false,"title":null}},
"color":{"field":"d","type":"nominal"}
},
"layer":[
{"mark":{"type":"errorband","opacity":0.2},"encoding":{"yError":{"field":"e"}}},
{"mark":{"type":"line","strokeWidth":1}}
]},
{"width":237,"height":213,"title":"DitheredRound",
"data":{"name":"acc"},
"transform":[{"filter":"datum.m=='R'"},{"lookup":"d","from":{"data":{"name":"bandSR"},"key":"d","fields":["e"]}}],
"encoding":{
"x":{"field":"t","type":"quantitative","scale":{"domain":[-75,1575],"nice":false},"axis":{"values":[0,250,500,750,1000,1250,1500],"format":"d","title":"t","titleFontStyle":"italic"}},
"y":{"field":"y","type":"quantitative","scale":{"domain":[-0.015,0.472],"nice":false,"zero":false},"axis":{"values":[0,0.1,0.2,0.3,0.4],"labels":false,"title":null}},
"color":{"field":"d","type":"nominal"}
},
"layer":[
{"mark":{"type":"errorband","opacity":0.2},"encoding":{"yError":{"field":"e"}}},
{"mark":{"type":"line","strokeWidth":1}}
]}
]
}
